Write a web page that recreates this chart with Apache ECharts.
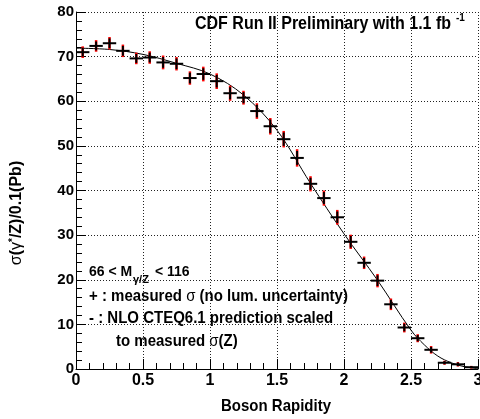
<!DOCTYPE html>
<html>
<head>
<meta charset="utf-8">
<script src="https://cdn.jsdelivr.net/npm/echarts@6/dist/echarts.min.js"></script>
<style>
html,body{margin:0;padding:0;background:#fff;}
#c{width:480px;height:419px;}
</style>
</head>
<body>
<div id="c"></div>
<script>
// Bin centres (boson rapidity)
const binCenters = [0.05,0.15,0.25,0.35,0.45,0.55,0.65,0.75,0.85,0.95,
                    1.05,1.15,1.25,1.35,1.45,1.55,1.65,1.75,1.85,1.95,
                    2.05,2.15,2.25,2.35,2.45,2.55,2.65,2.75,2.85,2.95];
// Measured cross-section
const measured = [71.0,72.4,73.0,71.3,69.6,69.8,68.7,68.4,65.2,66.1,
                  64.5,61.8,60.8,57.8,54.4,51.5,47.3,41.5,38.3,34.0,
                  28.5,23.8,19.8,14.5,9.3,6.9,4.3,1.4,1.05,0.4];
// Total (red) and statistical (black) uncertainties
const totErr = [1.3,1.3,1.4,1.4,1.3,1.4,1.55,1.5,1.5,1.65,
                1.75,1.7,1.55,1.75,1.85,1.85,1.95,1.7,1.7,1.65,
                1.6,1.4,1.5,1.3,1.1,0.9,0.85,0.45,0.5,0.3];
const statErr = [1.0,1.0,1.1,1.1,1.0,1.1,1.2,1.2,1.2,1.3,
                 1.4,1.35,1.25,1.4,1.5,1.5,1.55,1.35,1.35,1.3,
                 1.3,1.1,1.2,1.0,0.85,0.7,0.65,0.35,0.4,0.2];
// NLO CTEQ6.1 prediction curve
const curveX = [0,0.25,0.5,0.75,1.0,1.25,1.5,1.75,2.0,2.25,2.5,2.6,2.7,2.8,2.9,3.0];
const curveY = [71.9,71.6,70.5,68.5,66.1,61.4,53.5,41.6,30.3,19.9,8.7,5.4,2.9,1.4,0.5,0.1];

const FONT = '"Liberation Sans", Arial, Helvetica, sans-serif';
const chart = echarts.init(document.getElementById('c'), null, {renderer:'canvas'});

const pts = binCenters.map((x,i)=>[x, measured[i], statErr[i], totErr[i]]);
const curve = curveX.map((x,i)=>[x, curveY[i]]);
const halfBin = 0.05;

const option = {
  animation:false,
  backgroundColor:'#fff',
  grid:{left:76, right:2, top:12, bottom:50, containLabel:false, outerBoundsMode:'none'},
  xAxis:{
    type:'value', min:0, max:3, interval:0.5,
    axisLine:{show:true, onZero:false, lineStyle:{color:'#000', width:1}},
    axisTick:{show:true, inside:true, length:10, lineStyle:{color:'#000'}},
    minorTick:{show:true, splitNumber:5, length:6, lineStyle:{color:'#000'}},
    splitLine:{show:true, lineStyle:{color:'#222', type:[1,2], width:1}},
    axisLabel:{color:'#000', fontFamily:FONT, fontWeight:'bold', fontSize:16, margin:4,
      formatter:v=>String(+v.toFixed(1)), showMaxLabel:true, showMinLabel:true, hideOverlap:false},
  },
  yAxis:{
    type:'value', min:0, max:80, interval:10,
    axisLine:{show:true, onZero:false, lineStyle:{color:'#000', width:1}},
    axisTick:{show:true, inside:true, length:10, lineStyle:{color:'#000'}},
    minorTick:{show:true, splitNumber:5, length:6, lineStyle:{color:'#000'}},
    splitLine:{show:true, lineStyle:{color:'#222', type:[1,2], width:1}},
    axisLabel:{color:'#000', fontFamily:FONT, fontWeight:'bold', fontSize:15, margin:2},
  },
  series:[
    {
      type:'line', data:curve, smooth:0.35, symbol:'none',
      lineStyle:{color:'#000', width:1}, z:2
    },
    {
      type:'custom', data:pts, z:3,
      renderItem:function(params, api){
        const x = api.value(0), y = api.value(1), st = api.value(2), tt = api.value(3);
        const rT = api.coord([x, y+tt]), rB = api.coord([x, y-tt]);
        const sT = api.coord([x, y+st]), sB = api.coord([x, y-st]);
        const pL = api.coord([x-halfBin, y]), pR = api.coord([x+halfBin, y]);
        return {type:'group', children:[
          {type:'line', shape:{x1:rT[0],y1:rT[1],x2:rB[0],y2:rB[1]}, style:{stroke:'#ff0000', lineWidth:2.5}},
          {type:'line', shape:{x1:sT[0],y1:sT[1],x2:sB[0],y2:sB[1]}, style:{stroke:'#000', lineWidth:2}},
          {type:'line', shape:{x1:pL[0],y1:pL[1],x2:pR[0],y2:pR[1]}, style:{stroke:'#000', lineWidth:2}}
        ]};
      }
    }
  ],
  graphic:[
    {type:'text', x:195, y:15, scaleY:1.15, style:{text:'CDF Run II Preliminary with 1.1 fb', font:'bold 16px '+FONT, fill:'#000'}},
    {type:'text', x:456, y:13, style:{text:'-1', font:'bold 10px '+FONT, fill:'#000'}},
    {type:'text', x:89, y:264, scaleY:1.1, style:{text:'66 < M', font:'bold 14px '+FONT, fill:'#000'}},
    {type:'text', x:133, y:274, style:{text:'γ/Z', font:'bold 11px '+FONT, fill:'#000'}},
    {type:'text', x:155, y:264, scaleY:1.1, style:{text:'< 116', font:'bold 14px '+FONT, fill:'#000'}},
    {type:'text', x:89, y:288, scaleY:1.1, style:{
      text:'+ : measured {n|σ} (no lum. uncertainty)', font:'bold 15px '+FONT, fill:'#000',
      rich:{n:{fontFamily:FONT, fontWeight:'normal', fontSize:15}}}},
    {type:'text', x:89, y:310, scaleY:1.1, style:{text:'- : NLO CTEQ6.1 prediction scaled', font:'bold 15px '+FONT, fill:'#000'}},
    {type:'text', x:116, y:333, scaleY:1.1, style:{
      text:'to measured {n|σ}(Z)', font:'bold 15px '+FONT, fill:'#000',
      rich:{n:{fontFamily:FONT, fontWeight:'normal', fontSize:15}}}},
    {type:'text', x:276, y:398, scaleY:1.1, style:{text:'Boson Rapidity', font:'bold 15px '+FONT, fill:'#000', align:'center'}},
    {type:'text', x:17, y:213, rotation:Math.PI/2, style:{
      text:'{n|σ}({n|γ}{s|*}/Z)/0.1(Pb)', font:'bold 16px '+FONT, fill:'#000',
      align:'center', verticalAlign:'middle',
      rich:{n:{fontFamily:FONT, fontWeight:'normal', fontSize:16},
            s:{fontFamily:FONT, fontWeight:'bold', fontSize:10, verticalAlign:'top', padding:[0,0,8,0]}}}}
  ]
};
chart.setOption(option);
</script>
</body>
</html>
